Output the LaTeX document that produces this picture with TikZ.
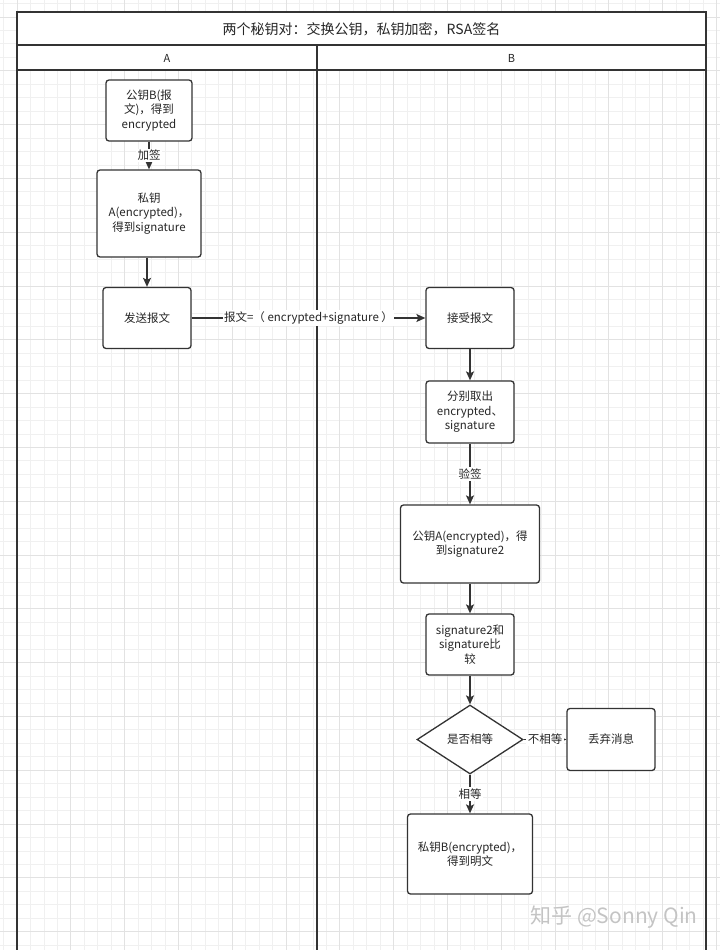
\documentclass[tikz,border=0pt]{standalone}
\usepackage{fontspec}
\setmainfont{Noto Sans CJK SC}
\usetikzlibrary{arrows.meta,shapes.geometric}
\definecolor{ink}{HTML}{333333}
\definecolor{gridlo}{HTML}{F0F0F0}
\definecolor{gridhi}{HTML}{E2E2E2}
\definecolor{mark}{HTML}{C4C4C4}

\begin{document}
\begin{tikzpicture}[x=1pt, y=-1pt,
  pool/.style={draw=ink, line width=1.6pt},
  box/.style={draw=ink, line width=1.3pt, rounded corners=3pt, fill=white,
    align=center, inner sep=0pt, text=black!85, font=\fontsize{11.5}{14.5}\selectfont},
  flow/.style={draw=ink, line width=1.4pt, -{Stealth[length=9pt, width=8pt, inset=2pt]}},
  lbl/.style={fill=white, inner sep=1.5pt, text=black!85, font=\fontsize{11.5}{13}\selectfont}]
  \useasboundingbox (0,0) rectangle (720,950);
  % grid
  \foreach \i in {-1,...,53}
    \draw[gridlo, line width=0.8pt] ({17+13.45*\i},0) -- ({17+13.45*\i},950);
  \foreach \i in {-1,...,70}
    \draw[gridlo, line width=0.8pt] (0,{17+13.45*\i}) -- (720,{17+13.45*\i});
  \foreach \i in {0,...,13}
    \draw[gridhi, line width=0.9pt] ({17+53.8*\i},0) -- ({17+53.8*\i},950);
  \foreach \i in {0,...,17}
    \draw[gridhi, line width=0.9pt] (0,{17+53.8*\i}) -- (720,{17+53.8*\i});

  % pool and lanes
  \draw[pool, fill=white] (17,12) rectangle (706,45);
  \draw[pool, fill=white] (17,45) rectangle (317,70);
  \draw[pool, fill=white] (317,45) rectangle (706,70);
  \draw[pool] (17,70) -- (17,950);
  \draw[pool] (317,70) -- (317,950);
  \draw[pool] (706,70) -- (706,950);
  \node[text=black!85, font=\fontsize{14}{16}\selectfont] (title) at (361.5,29) {两个秘钥对：交换公钥，私钥加密，RSA签名};
  \node[text=black!85, font=\fontsize{11}{13}\selectfont] (laneA) at (167,58) {A};
  \node[text=black!85, font=\fontsize{11}{13}\selectfont] (laneB) at (511.5,58) {B};

  % lane A
  \node[box, minimum width=86pt, minimum height=61pt] (encB) at (149,110.5) {公钥B(报\\文)，得到\\encrypted};
  \node[box, minimum width=104pt, minimum height=87pt] (signA) at (149,213.5) {私钥\\A(encrypted)，\\得到signature};
  \node[box, minimum width=88pt, minimum height=61pt] (sendA) at (147,318) {发送报文};

  % lane B
  \node[box, minimum width=88pt, minimum height=61pt] (recvB) at (470,318) {接受报文};
  \node[box, minimum width=88pt, minimum height=62pt] (splitB) at (470,412) {分别取出\\encrypted、\\signature};
  \node[box, minimum width=139pt, minimum height=78pt] (verifyB) at (470,544) {公钥A(encrypted)，得\\到signature2};
  \node[box, minimum width=88pt, minimum height=61pt] (cmpB) at (470,644.5) {signature2和\\signature比\\较};
  \node[box, shape=diamond, rounded corners=0pt, minimum width=106pt, minimum height=69pt] (eqB) at (470,739.5) {是否相等};
  \node[box, minimum width=88pt, minimum height=62pt] (dropB) at (611,739.5) {丢弃消息};
  \node[box, minimum width=125pt, minimum height=80pt] (decB) at (470,854) {私钥B(encrypted)，\\得到明文};

  % arrows
  \draw[flow] (encB) -- node[lbl] {加签} (signA);
  \draw[flow] (signA.south -| sendA) -- (sendA);
  \draw[flow] (sendA) -- node[lbl] {报文=（ encrypted+signature ）} (recvB);
  \draw[flow] (recvB) -- (splitB);
  \draw[flow] (splitB) -- node[lbl] {验签} (verifyB);
  \draw[flow] (verifyB) -- (cmpB);
  \draw[flow] (cmpB) -- (eqB);
  \draw[flow] (eqB) -- node[lbl] {不相等} (dropB);
  \draw[flow] (eqB) -- node[lbl] {相等} (decB);

  % watermark
  \node[text=mark, font=\fontsize{21}{24}\selectfont] (zhihu) at (614,917) {知乎 @Sonny Qin};
\end{tikzpicture}
\end{document}
